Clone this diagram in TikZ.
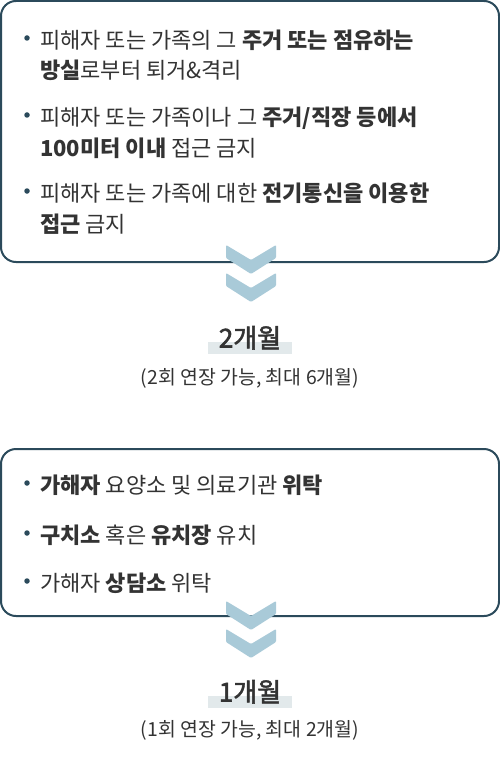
\documentclass[tikz,border=0pt]{standalone}
\usepackage{fontspec}
\setmainfont{Noto Sans CJK KR}
\newfontfamily\medfont{Noto Sans CJK KR}[FakeBold=2]
\usepackage{tikz}
\usetikzlibrary{positioning}
\definecolor{cardline}{HTML}{2B4A5B}
\definecolor{chevblue}{HTML}{A9CAD8}
\definecolor{hlgray}{HTML}{E2E9EB}
\definecolor{txt}{HTML}{333333}
\newcommand{\chevron}[2]{\fill [chev] (#1-25,#2) -- (#1,#2+15) -- (#1+25,#2) -- (#1+25,#2+13) -- (#1,#2+29) -- (#1-25,#2+13) -- cycle;}
\tikzstyle{card} = [draw=cardline, line width=2pt, rounded corners=15pt, fill=white]
\tikzstyle{item} = [anchor=base west, inner sep=0pt, text=txt, font=\fontsize{22}{26}\selectfont]
\tikzstyle{dot} = [circle, fill=cardline, inner sep=0pt, minimum size=5.5pt]
\tikzstyle{chev} = [fill=chevblue, rounded corners=1pt]
\tikzstyle{months} = [anchor=base, inner sep=0pt, text=txt, font=\fontsize{26}{30}\selectfont\medfont]
\tikzstyle{note} = [anchor=base, inner sep=0pt, text=txt, font=\fontsize{19.4}{23}\selectfont]
\tikzstyle{hl} = [fill=hlgray]
\begin{document}
\begin{tikzpicture}[x=1pt, y=-1pt]
	\useasboundingbox [fill=white] (0,0) rectangle (500,773);
	\draw [card] (1,1) rectangle (499,262);
	\node (a1) [item] at (40,48.5) {피해자 또는 가족의 그 \textbf{주거 또는 점유하는}};
	\node (a2) [item] at (40,78.5) {\textbf{방실}로부터 퇴거\&격리};
	\node (b1) [item] at (40,125.5) {피해자 또는 가족이나 그 \textbf{주거/직장 등에서}};
	\node (b2) [item] at (40,156.5) {\textbf{100미터 이내} 접근 금지};
	\node (c1) [item] at (40,201.5) {피해자 또는 가족에 대한 \textbf{전기통신을 이용한}};
	\node (c2) [item] at (40,232.5) {\textbf{접근} 금지};
	\node (da) [dot] at (27,38) {};
	\node (db) [dot] at (27,115) {};
	\node (dc) [dot] at (27,191) {};
	\chevron{251}{245}
	\chevron{251}{273}
	\fill [hl] (208,342) rectangle (292,354);
	\node (m1) [months] at (250,347.5) {2개월};
	\node (n1) [note] at (250,384.5) {(2회 연장 가능, 최대 6개월)};
	\draw [card] (1,449) rectangle (499,616);
	\node (e1) [item] at (40,493.5) {\textbf{가해자} 요양소 및 의료기관 \textbf{위탁}};
	\node (f1) [item] at (40,543.5) {\textbf{구치소} 혹은 \textbf{유치장} 유치};
	\node (g1) [item] at (40,591.5) {가해자 \textbf{상담소} 위탁};
	\node (de) [dot] at (27,483) {};
	\node (df) [dot] at (27,533) {};
	\node (dg) [dot] at (27,581) {};
	\chevron{251}{601}
	\chevron{251}{629}
	\fill [hl] (208,696) rectangle (292,708);
	\node (m2) [months] at (250,701.5) {1개월};
	\node (n2) [note] at (250,736.5) {(1회 연장 가능, 최대 2개월)};
\end{tikzpicture}
\end{document}
